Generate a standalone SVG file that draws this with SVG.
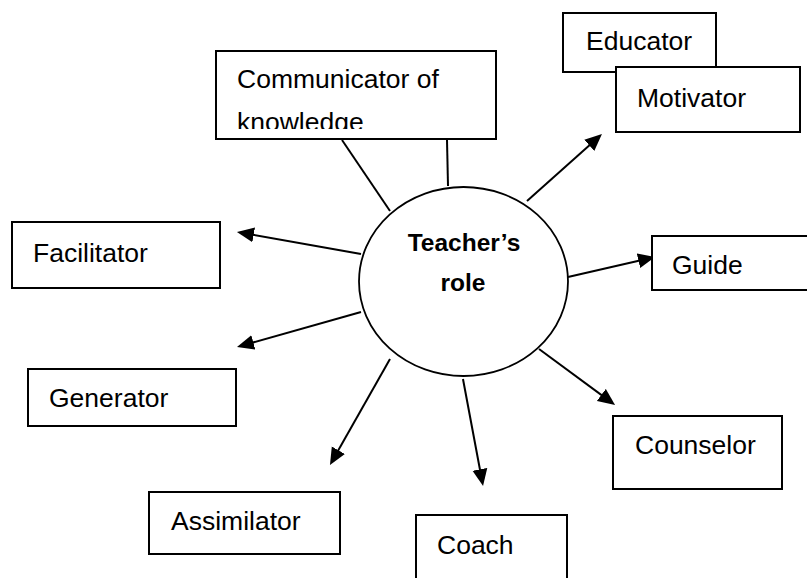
<svg xmlns="http://www.w3.org/2000/svg" width="807" height="578" viewBox="0 0 807 578">
<style>
.box{fill:#fff;stroke:#000;stroke-width:2}
.lbl{font-family:"Liberation Sans",Arial,sans-serif;font-size:26.5px;fill:#000}
.ctr{font-family:"Liberation Sans",Arial,sans-serif;font-size:24.5px;font-weight:bold;fill:#000;text-anchor:middle}
.con{stroke:#000;stroke-width:2;fill:none}
.arr{marker-end:url(#ah)}
</style>
<defs>
<marker id="ah" markerUnits="userSpaceOnUse" markerWidth="18" markerHeight="16" viewBox="0 0 18 16" refX="7" refY="8" orient="auto">
<path d="M0,0.5 L17,8 L0,15.5 z" fill="#000"/>
</marker>
<clipPath id="clipComm"><rect x="216" y="51" width="280" height="78"/></clipPath>
</defs>
<rect width="807" height="578" fill="#fff"/>
<g id="connectors">
<line class="con" x1="342" y1="140" x2="390" y2="211"/>
<line class="con" x1="447" y1="140" x2="448" y2="186"/>
<line class="con arr" x1="527" y1="201" x2="594.5" y2="140.7"/>
<line class="con arr" x1="568" y1="277" x2="645.3" y2="259.2"/>
<line class="con arr" x1="539" y1="349" x2="607" y2="399.1"/>
<line class="con arr" x1="463" y1="379" x2="481.2" y2="476.2"/>
<line class="con arr" x1="390" y1="359" x2="334.9" y2="456.3"/>
<line class="con arr" x1="361" y1="312" x2="246.6" y2="344.3"/>
<line class="con arr" x1="361" y1="254" x2="246.8" y2="233.7"/>
</g>
<g id="teachers-role">
<ellipse cx="463.5" cy="281.5" rx="104.5" ry="94.5" fill="#fff" stroke="#000" stroke-width="1.8"/>
<text class="ctr" x="464" y="251">Teacher’s</text>
<text class="ctr" x="463" y="291">role</text>
</g>
<g id="communicator">
<rect class="box" x="216" y="51" width="280" height="88"/>
<g clip-path="url(#clipComm)">
<text class="lbl" x="237" y="88">Communicator of</text>
<text class="lbl" x="237" y="131">knowledge</text>
</g>
</g>
<g id="educator">
<rect class="box" x="563" y="13" width="153" height="59"/>
<text class="lbl" x="586" y="50">Educator</text>
</g>
<g id="motivator">
<rect class="box" x="616" y="67" width="184" height="65"/>
<text class="lbl" x="637" y="107">Motivator</text>
</g>
<g id="guide">
<rect class="box" x="652" y="236" width="170" height="54"/>
<text class="lbl" x="672" y="274">Guide</text>
</g>
<g id="counselor">
<rect class="box" x="613" y="416" width="169" height="73"/>
<text class="lbl" x="635" y="454">Counselor</text>
</g>
<g id="coach">
<rect class="box" x="416" y="515" width="151" height="80"/>
<text class="lbl" x="437" y="554">Coach</text>
</g>
<g id="assimilator">
<rect class="box" x="149" y="492" width="191" height="62"/>
<text class="lbl" x="171" y="530">Assimilator</text>
</g>
<g id="generator">
<rect class="box" x="28" y="369" width="208" height="57"/>
<text class="lbl" x="49" y="407">Generator</text>
</g>
<g id="facilitator">
<rect class="box" x="12" y="222" width="208" height="66"/>
<text class="lbl" x="33" y="262">Facilitator</text>
</g>
</svg>
